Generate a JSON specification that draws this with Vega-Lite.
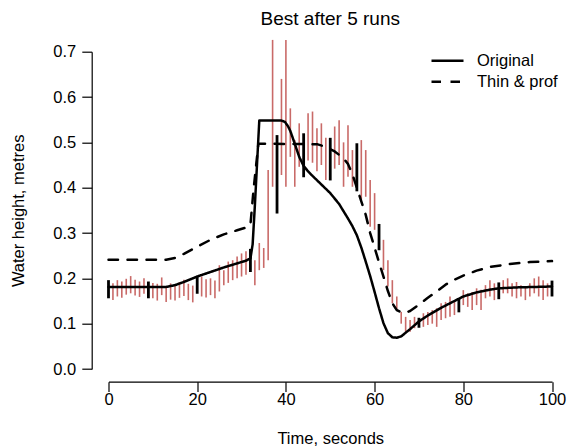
{
  "$schema": "https://vega.github.io/schema/vega-lite/v6.json",
  "width": 443.5,
  "height": 317.3,
  "autosize": "none",
  "padding": {"left": 108.5, "top": 51.7, "right": 15, "bottom": 79},
  "background": "white",
  "config": {"view": {"stroke": null}, "font": "Liberation Sans"},
  "title": {"text": "Best after 5 runs", "fontSize": 19, "fontWeight": "normal", "color": "black", "font": "Liberation Sans", "offset": 10, "anchor": "middle"},
  "datasets": {
    "lines": [
      {"t": 0, "v": 0.181, "series": "Original"}, {"t": 5, "v": 0.181, "series": "Original"}, {"t": 10, "v": 0.181, "series": "Original"}, {"t": 13, "v": 0.181, "series": "Original"}, {"t": 15, "v": 0.185, "series": "Original"}, {"t": 17, "v": 0.192, "series": "Original"}, {"t": 20, "v": 0.204, "series": "Original"}, {"t": 23, "v": 0.214, "series": "Original"}, {"t": 26, "v": 0.224, "series": "Original"}, {"t": 29, "v": 0.233, "series": "Original"}, {"t": 31, "v": 0.239, "series": "Original"}, {"t": 32, "v": 0.244, "series": "Original"}, {"t": 32.5, "v": 0.275, "series": "Original"}, {"t": 33, "v": 0.36, "series": "Original"}, {"t": 34, "v": 0.548, "series": "Original"}, {"t": 39, "v": 0.548, "series": "Original"}, {"t": 39.8, "v": 0.545, "series": "Original"}, {"t": 40.5, "v": 0.535, "series": "Original"}, {"t": 41, "v": 0.525, "series": "Original"}, {"t": 42, "v": 0.497, "series": "Original"}, {"t": 43, "v": 0.468, "series": "Original"}, {"t": 44, "v": 0.448, "series": "Original"}, {"t": 45, "v": 0.436, "series": "Original"}, {"t": 46, "v": 0.426, "series": "Original"}, {"t": 48, "v": 0.407, "series": "Original"}, {"t": 50, "v": 0.388, "series": "Original"}, {"t": 52, "v": 0.364, "series": "Original"}, {"t": 53, "v": 0.348, "series": "Original"}, {"t": 54, "v": 0.332, "series": "Original"}, {"t": 55, "v": 0.315, "series": "Original"}, {"t": 56, "v": 0.295, "series": "Original"}, {"t": 57, "v": 0.268, "series": "Original"}, {"t": 58, "v": 0.237, "series": "Original"}, {"t": 59, "v": 0.205, "series": "Original"}, {"t": 60, "v": 0.17, "series": "Original"}, {"t": 61, "v": 0.134, "series": "Original"}, {"t": 62, "v": 0.101, "series": "Original"}, {"t": 63, "v": 0.079, "series": "Original"}, {"t": 64, "v": 0.07, "series": "Original"}, {"t": 65, "v": 0.069, "series": "Original"}, {"t": 66, "v": 0.072, "series": "Original"}, {"t": 68, "v": 0.088, "series": "Original"}, {"t": 70, "v": 0.105, "series": "Original"}, {"t": 72, "v": 0.118, "series": "Original"}, {"t": 75, "v": 0.135, "series": "Original"}, {"t": 78, "v": 0.15, "series": "Original"}, {"t": 80, "v": 0.16, "series": "Original"}, {"t": 83, "v": 0.169, "series": "Original"}, {"t": 86, "v": 0.175, "series": "Original"}, {"t": 88, "v": 0.178, "series": "Original"}, {"t": 92, "v": 0.18, "series": "Original"}, {"t": 100, "v": 0.182, "series": "Original"},
      {"t": 0, "v": 0.241, "series": "Thin & prof"}, {"t": 13, "v": 0.241, "series": "Thin & prof"}, {"t": 15, "v": 0.245, "series": "Thin & prof"}, {"t": 17, "v": 0.254, "series": "Thin & prof"}, {"t": 20, "v": 0.27, "series": "Thin & prof"}, {"t": 23, "v": 0.285, "series": "Thin & prof"}, {"t": 26, "v": 0.297, "series": "Thin & prof"}, {"t": 29, "v": 0.306, "series": "Thin & prof"}, {"t": 31, "v": 0.312, "series": "Thin & prof"}, {"t": 32, "v": 0.318, "series": "Thin & prof"}, {"t": 32.7, "v": 0.395, "series": "Thin & prof"}, {"t": 33.8, "v": 0.497, "series": "Thin & prof"}, {"t": 47, "v": 0.496, "series": "Thin & prof"}, {"t": 49, "v": 0.49, "series": "Thin & prof"}, {"t": 51, "v": 0.48, "series": "Thin & prof"}, {"t": 53, "v": 0.465, "series": "Thin & prof"}, {"t": 54, "v": 0.452, "series": "Thin & prof"}, {"t": 55, "v": 0.43, "series": "Thin & prof"}, {"t": 56, "v": 0.4, "series": "Thin & prof"}, {"t": 57, "v": 0.37, "series": "Thin & prof"}, {"t": 58, "v": 0.34, "series": "Thin & prof"}, {"t": 59, "v": 0.3, "series": "Thin & prof"}, {"t": 60, "v": 0.268, "series": "Thin & prof"}, {"t": 61, "v": 0.235, "series": "Thin & prof"}, {"t": 62, "v": 0.204, "series": "Thin & prof"}, {"t": 63, "v": 0.172, "series": "Thin & prof"}, {"t": 64, "v": 0.145, "series": "Thin & prof"}, {"t": 65, "v": 0.13, "series": "Thin & prof"}, {"t": 66, "v": 0.125, "series": "Thin & prof"}, {"t": 67, "v": 0.124, "series": "Thin & prof"}, {"t": 68, "v": 0.128, "series": "Thin & prof"}, {"t": 70, "v": 0.142, "series": "Thin & prof"}, {"t": 72, "v": 0.157, "series": "Thin & prof"}, {"t": 74, "v": 0.171, "series": "Thin & prof"}, {"t": 76, "v": 0.186, "series": "Thin & prof"}, {"t": 78, "v": 0.197, "series": "Thin & prof"}, {"t": 80, "v": 0.206, "series": "Thin & prof"}, {"t": 83, "v": 0.217, "series": "Thin & prof"}, {"t": 86, "v": 0.225, "series": "Thin & prof"}, {"t": 90, "v": 0.231, "series": "Thin & prof"}, {"t": 95, "v": 0.236, "series": "Thin & prof"}, {"t": 100, "v": 0.238, "series": "Thin & prof"}
    ],
    "red": [
      {"t": 1, "lo": 0.152, "hi": 0.189}, {"t": 2, "lo": 0.16, "hi": 0.196}, {"t": 3, "lo": 0.157, "hi": 0.193}, {"t": 4, "lo": 0.164, "hi": 0.199}, {"t": 5, "lo": 0.167, "hi": 0.205}, {"t": 6, "lo": 0.162, "hi": 0.197}, {"t": 7, "lo": 0.159, "hi": 0.193}, {"t": 8, "lo": 0.166, "hi": 0.2},
      {"t": 10, "lo": 0.156, "hi": 0.19}, {"t": 11, "lo": 0.151, "hi": 0.188}, {"t": 12, "lo": 0.163, "hi": 0.202}, {"t": 13, "lo": 0.148, "hi": 0.183}, {"t": 14, "lo": 0.153, "hi": 0.189}, {"t": 15, "lo": 0.151, "hi": 0.186}, {"t": 16, "lo": 0.157, "hi": 0.192}, {"t": 17, "lo": 0.161, "hi": 0.197}, {"t": 18, "lo": 0.152, "hi": 0.188}, {"t": 19, "lo": 0.147, "hi": 0.184},
      {"t": 21, "lo": 0.16, "hi": 0.204}, {"t": 22, "lo": 0.158, "hi": 0.198}, {"t": 23, "lo": 0.163, "hi": 0.2}, {"t": 24, "lo": 0.156, "hi": 0.195}, {"t": 25, "lo": 0.171, "hi": 0.229}, {"t": 26, "lo": 0.185, "hi": 0.218}, {"t": 27, "lo": 0.19, "hi": 0.237}, {"t": 28, "lo": 0.196, "hi": 0.24}, {"t": 29, "lo": 0.2, "hi": 0.248}, {"t": 30, "lo": 0.204, "hi": 0.255}, {"t": 31, "lo": 0.208, "hi": 0.26},
      {"t": 33, "lo": 0.185, "hi": 0.24}, {"t": 34, "lo": 0.218, "hi": 0.278}, {"t": 35, "lo": 0.223, "hi": 0.267}, {"t": 36, "lo": 0.24, "hi": 0.439}, {"t": 37, "lo": 0.402, "hi": 0.726},
      {"t": 39, "lo": 0.428, "hi": 0.64}, {"t": 40, "lo": 0.402, "hi": 0.726}, {"t": 41, "lo": 0.468, "hi": 0.575}, {"t": 42, "lo": 0.402, "hi": 0.505}, {"t": 43, "lo": 0.446, "hi": 0.542},
      {"t": 45, "lo": 0.46, "hi": 0.564}, {"t": 46, "lo": 0.455, "hi": 0.568}, {"t": 47, "lo": 0.436, "hi": 0.531}, {"t": 48, "lo": 0.45, "hi": 0.542}, {"t": 49, "lo": 0.417, "hi": 0.51},
      {"t": 51, "lo": 0.442, "hi": 0.535}, {"t": 52, "lo": 0.45, "hi": 0.549}, {"t": 53, "lo": 0.402, "hi": 0.5}, {"t": 54, "lo": 0.424, "hi": 0.538}, {"t": 55, "lo": 0.402, "hi": 0.483},
      {"t": 57, "lo": 0.373, "hi": 0.505}, {"t": 58, "lo": 0.38, "hi": 0.483}, {"t": 59, "lo": 0.314, "hi": 0.417}, {"t": 60, "lo": 0.307, "hi": 0.388},
      {"t": 62, "lo": 0.218, "hi": 0.285}, {"t": 63, "lo": 0.182, "hi": 0.24}, {"t": 64, "lo": 0.145, "hi": 0.196}, {"t": 65, "lo": 0.13, "hi": 0.16}, {"t": 66, "lo": 0.1, "hi": 0.126}, {"t": 67, "lo": 0.082, "hi": 0.115}, {"t": 68, "lo": 0.082, "hi": 0.108}, {"t": 69, "lo": 0.09, "hi": 0.115},
      {"t": 71, "lo": 0.093, "hi": 0.123}, {"t": 72, "lo": 0.097, "hi": 0.126}, {"t": 73, "lo": 0.1, "hi": 0.13}, {"t": 74, "lo": 0.093, "hi": 0.134}, {"t": 75, "lo": 0.108, "hi": 0.145}, {"t": 76, "lo": 0.112, "hi": 0.148}, {"t": 77, "lo": 0.115, "hi": 0.16}, {"t": 78, "lo": 0.119, "hi": 0.152},
      {"t": 80, "lo": 0.141, "hi": 0.174}, {"t": 81, "lo": 0.137, "hi": 0.167}, {"t": 82, "lo": 0.13, "hi": 0.17}, {"t": 83, "lo": 0.141, "hi": 0.178}, {"t": 84, "lo": 0.13, "hi": 0.175}, {"t": 85, "lo": 0.156, "hi": 0.185}, {"t": 86, "lo": 0.16, "hi": 0.196}, {"t": 87, "lo": 0.152, "hi": 0.189},
      {"t": 89, "lo": 0.167, "hi": 0.196}, {"t": 90, "lo": 0.167, "hi": 0.2}, {"t": 91, "lo": 0.16, "hi": 0.189}, {"t": 92, "lo": 0.156, "hi": 0.192}, {"t": 93, "lo": 0.16, "hi": 0.185}, {"t": 94, "lo": 0.152, "hi": 0.182}, {"t": 95, "lo": 0.16, "hi": 0.189}, {"t": 96, "lo": 0.167, "hi": 0.2}, {"t": 97, "lo": 0.16, "hi": 0.204}, {"t": 98, "lo": 0.152, "hi": 0.196}, {"t": 99, "lo": 0.16, "hi": 0.189}
    ],
    "black": [
      {"t": 0, "lo": 0.156, "hi": 0.196}, {"t": 9, "lo": 0.156, "hi": 0.193}, {"t": 20, "lo": 0.166, "hi": 0.203}, {"t": 32, "lo": 0.214, "hi": 0.265}, {"t": 38, "lo": 0.343, "hi": 0.516}, {"t": 44, "lo": 0.423, "hi": 0.52}, {"t": 50, "lo": 0.416, "hi": 0.51}, {"t": 56, "lo": 0.392, "hi": 0.498}, {"t": 61, "lo": 0.262, "hi": 0.32}, {"t": 70, "lo": 0.091, "hi": 0.113}, {"t": 79, "lo": 0.125, "hi": 0.156}, {"t": 88, "lo": 0.154, "hi": 0.191}, {"t": 100, "lo": 0.16, "hi": 0.195}
    ]
  },
  "layer": [
    {
      "data": {"name": "red"},
      "mark": {"type": "rule", "color": "#c0504d", "strokeWidth": 1.6, "opacity": 0.85},
      "encoding": {
        "x": {"field": "t", "type": "quantitative", "scale": {"domain": [0, 100], "nice": false},
          "axis": {"values": [0, 20, 40, 60, 80, 100], "offset": 12.7, "grid": false, "labelFlush": false, "domainColor": "black", "domainWidth": 1.2, "tickColor": "black", "tickWidth": 1.2, "tickSize": 9.9, "labelFontSize": 16.5, "labelColor": "black", "labelFont": "Liberation Sans", "labelPadding": 0, "title": "Time, seconds", "titleFontSize": 16.5, "titleFontWeight": "normal", "titleColor": "black", "titleFont": "Liberation Sans", "titlePadding": 22}},
        "y": {"field": "lo", "type": "quantitative", "scale": {"domain": [0, 0.7], "nice": false},
          "axis": {"values": [0, 0.1, 0.2, 0.3, 0.4, 0.5, 0.6, 0.7], "format": ".1f", "offset": 16.8, "grid": false, "labelFlush": false, "domainColor": "black", "domainWidth": 1.2, "tickColor": "black", "tickWidth": 1.2, "tickSize": 9.9, "labelFontSize": 16.5, "labelColor": "black", "labelFont": "Liberation Sans", "labelPadding": 6, "title": "Water height, metres", "titleFontSize": 16.5, "titleFontWeight": "normal", "titleColor": "black", "titleFont": "Liberation Sans", "titlePadding": 26}},
        "y2": {"field": "hi"}
      }
    },
    {
      "data": {"name": "black"},
      "mark": {"type": "rule", "color": "black", "strokeWidth": 2.8},
      "encoding": {
        "x": {"field": "t", "type": "quantitative"},
        "y": {"field": "lo", "type": "quantitative"},
        "y2": {"field": "hi"}
      }
    },
    {
      "data": {"name": "lines"},
      "mark": {"type": "line", "color": "black", "strokeWidth": 2.5, "strokeCap": "round", "strokeJoin": "round"},
      "encoding": {
        "x": {"field": "t", "type": "quantitative"},
        "y": {"field": "v", "type": "quantitative"},
        "strokeDash": {"field": "series", "type": "nominal",
          "scale": {"domain": ["Original", "Thin & prof"], "range": [[1, 0], [9.5, 9.5]]},
          "legend": {"title": null, "orient": "none", "legendX": 321.5, "legendY": -1.5, "symbolType": "stroke", "symbolSize": 1024, "symbolStrokeWidth": 2.5, "symbolStrokeColor": "black", "clipHeight": 21, "rowPadding": 0, "padding": 0, "labelOffset": 12, "labelFontSize": 16.5, "labelFont": "Liberation Sans", "labelColor": "black", "labelLimit": 200}}
      }
    }
  ]
}
